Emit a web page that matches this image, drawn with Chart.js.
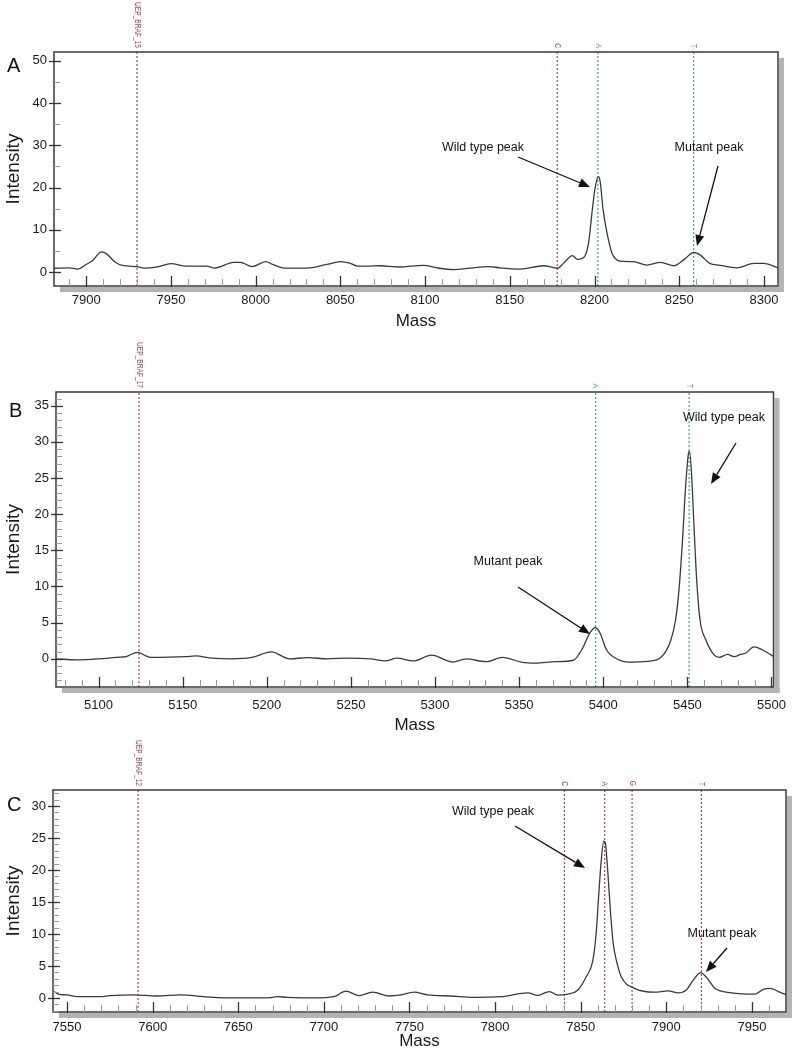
<!DOCTYPE html>
<html><head><meta charset="utf-8">
<script src="https://cdn.jsdelivr.net/npm/chart.js@4.4.1/dist/chart.umd.min.js"></script>
<style>
html,body{margin:0;padding:0;background:#fff;}
#wrap{position:relative;width:797px;height:1060px;overflow:hidden;}
canvas{position:absolute;left:0;}
</style></head><body>
<div id="wrap">
<canvas id="cA" width="797" height="340" style="top:0px;width:797px;height:340px"></canvas>
<canvas id="cB" width="797" height="400" style="top:340px;width:797px;height:400px"></canvas>
<canvas id="cC" width="797" height="320" style="top:740px;width:797px;height:320px"></canvas>
</div>
<script>
// ---------- DATA ----------
// Panel A
const massA = [7881,7890,7895,7900,7904,7909,7912,7917,7922,7930,7934,7942,7950,7959,7971,7976,7987,7991,7998,8006,8010,8017,8030,8042,8050,8056,8060,8066,8073,8085,8099,8107,8117,8125,8138,8144,8156,8170,8178,8182,8187,8190,8194,8196.5,8198.5,8200,8201.5,8202.5,8203.5,8205,8207.4,8210.4,8215,8223,8231,8239,8247,8253,8258.6,8262.5,8268,8274,8284,8294,8300,8308.5];
const intA  = [0.9,1.0,0.7,1.8,2.8,4.8,4.3,2.4,1.5,1.3,0.95,1.25,2.0,1.4,1.4,0.95,2.3,2.3,1.3,2.45,1.8,0.95,0.95,1.8,2.45,2.05,1.4,1.4,1.5,1.2,1.6,1.0,0.6,0.85,1.3,1.0,0.7,1.5,0.9,2.2,3.9,3.0,3.6,6.9,14,19,22,22.6,21,15,9.2,4.4,2.6,2.45,1.65,2.3,1.5,3.0,4.65,4.0,2.05,1.6,1.0,2.05,2.05,1.0];
const xTicksA = [7900,7950,8000,8050,8100,8150,8200,8250,8300];
const yTicksA = [0,10,20,30,40,50];
const markerMassA = [7930,8178,8202,8258.5];
const markerLabelA = ['UEP_BRAF_15','C','A','T'];

// Panel B
const massB = [5075,5087,5100.6,5110.5,5116.3,5123.2,5128.1,5131.1,5151.7,5157.6,5167.4,5179.2,5191,5202.7,5213.6,5224.3,5236.1,5247.9,5261.6,5270.5,5277.3,5287.1,5297.9,5310.7,5318.5,5330.3,5340.1,5351.9,5359.7,5371.5,5382.3,5387.2,5392.1,5395.4,5398,5401.9,5408.8,5414.7,5426.5,5434.3,5440.2,5443,5445,5447,5449,5450.6,5451.3,5452.5,5454,5455.5,5457.5,5461,5466,5469,5473.9,5477.8,5481.7,5484.7,5489.6,5494.5,5501.4];
const intB  = [0,-0.15,0,0.2,0.3,0.9,0.4,0.2,0.3,0.4,0.1,0,0.2,0.95,0,0.15,0,0.1,0,-0.3,0.1,-0.3,0.5,-0.45,0,-0.4,0.2,-0.5,-0.6,-0.4,-0.2,1.25,3.6,4.3,3.6,1.25,-0.1,-0.45,-0.35,0.2,2.6,5.4,9.5,16,24,28.3,28.7,25.5,18,11,5.4,2.6,0.5,0.2,0.6,0.3,0.6,0.8,1.65,1.25,0.3];
const xTicksB = [5100,5150,5200,5250,5300,5350,5400,5450,5500];
const yTicksB = [0,5,10,15,20,25,30,35];
const markerMassB = [5124,5395.5,5451];
const markerLabelB = ['UEP_BRAF_17','A','T'];

// Panel C
const massC = [7542.4,7544.9,7549.8,7555.7,7569.3,7575.2,7588.8,7602.5,7616.2,7629.8,7641.5,7666.9,7672.8,7678.6,7694.2,7705.9,7712.8,7720.6,7728.4,7738.2,7745,7752.8,7760.6,7774.2,7787.9,7803.5,7819.1,7825,7831.7,7836.6,7842.5,7848.4,7853.2,7857.1,7859,7860.5,7862,7863.5,7864.5,7866,7867.5,7869,7870.8,7873.7,7881.5,7893.2,7901,7906.9,7911.7,7916.6,7920,7923.5,7928.4,7938.1,7951.8,7956.7,7960.6,7965.5,7970.4];
const intC  = [1.0,0.6,0.47,0.2,0.2,0.35,0.47,0.3,0.47,0.2,0,0,0.2,0.1,0,0.2,1.05,0.35,0.9,0.3,0.47,0.9,0.47,0.3,0.1,0.2,0.8,0.4,1.0,0.45,0.6,1.25,3.3,5.9,10,16,21.5,24.5,24,19,13,8.5,5.9,3.3,1.5,0.9,1.1,0.8,1.25,3.1,3.95,3.2,1.5,0.8,0.6,1.35,1.5,1.0,0.45];
const xTicksC = [7550,7600,7650,7700,7750,7800,7850,7900,7950];
const yTicksC = [0,5,10,15,20,25,30];
const markerMassC = [7591.5,7840.5,7864,7880,7920.5];
const markerLabelC = ['UEP_BRAF_12','C','A','G','T'];

// ---------- STYLE / LAYOUT ----------
const RED = '#b0454d', BLUE = '#4a93b8';
const FONT = '"Liberation Sans", Arial, Helvetica, sans-serif';

const panels = [
  { id:'cA', letter:'A', letterPos:[7,66], mass:massA, inten:intA, xTicks:xTicksA, yTicks:yTicksA,
    xMin:7881, xMax:8308.3, yMin:-3.3, yMax:52.1, xMinor:10, yMinor:5,
    area:{l:54,t:52,r:778,b:286}, xLabelPad:7, titlePad:8,
    markers: markerMassA.map((m,i)=>({m, label:markerLabelA[i], c: i<2?RED:BLUE})),
    notes:[ {text:'Wild type peak', tx:483, ty:148, a:[518,157,590,187]},
            {text:'Mutant peak', tx:709, ty:148, a:[718,166,697,246]} ] },
  { id:'cB', letter:'B', letterPos:[9,71], mass:massB, inten:intB, xTicks:xTicksB, yTicks:yTicksB,
    xMin:5074.7, xMax:5501.2, yMin:-3.9, yMax:36.9, xMinor:10, yMinor:1,
    area:{l:56,t:52,r:780,b:347}, xLabelPad:11, titlePad:4,
    markers: markerMassB.map((m,i)=>({m, label:markerLabelB[i], c: i<1?RED:BLUE})),
    notes:[ {text:'Wild type peak', tx:724, ty:78, a:[736,103,711,144]},
            {text:'Mutant peak', tx:508, ty:222, a:[518,247,590,294]} ] },
  { id:'cC', letter:'C', letterPos:[7,65], mass:massC, inten:intC, xTicks:xTicksC, yTicks:yTicksC,
    xMin:7541.8, xMax:7969.9, yMin:-2.2, yMax:32.5, xMinor:10, yMinor:1,
    area:{l:53,t:50,r:786,b:272}, xLabelPad:8, titlePad:8,
    markers: markerMassC.map((m,i)=>({m, label:markerLabelC[i], c: RED})),
    notes:[ {text:'Wild type peak', tx:493, ty:72, a:[515,86,585,128]},
            {text:'Mutant peak', tx:722, ty:194, a:[727,208,706,232]} ] }
];

function arrow(ctx, x1,y1,x2,y2){
  const ang = Math.atan2(y2-y1, x2-x1), L = 11, W = 4.5;
  const bx = x2 - L*Math.cos(ang), by = y2 - L*Math.sin(ang);
  ctx.beginPath(); ctx.moveTo(x1,y1); ctx.lineTo(bx,by); ctx.stroke();
  ctx.beginPath(); ctx.moveTo(x2,y2);
  ctx.lineTo(bx + W*Math.sin(ang), by - W*Math.cos(ang));
  ctx.lineTo(bx - W*Math.sin(ang), by + W*Math.cos(ang));
  ctx.closePath(); ctx.fill();
}

function decor(P){
  return {
    id:'decor',
    beforeDraw(chart){
      const {ctx, chartArea:a} = chart;
      ctx.save(); ctx.fillStyle = '#b4b4b4';
      ctx.fillRect(a.right+1, a.top+6, 5, a.bottom-a.top);
      ctx.fillRect(a.left+6, a.bottom+1, a.right-a.left, 5);
      ctx.restore();
    },
    afterDraw(chart){
      const {ctx, chartArea:a, scales:{x,y}} = chart;
      ctx.save();
      // frame
      ctx.strokeStyle = '#3a3a3a'; ctx.lineWidth = 1.5;
      ctx.strokeRect(a.left, a.top, a.right-a.left, a.bottom-a.top);
      // y ticks
      for (let v = Math.ceil(P.yMin/P.yMinor)*P.yMinor; v <= P.yMax; v += P.yMinor){
        const py = Math.round(y.getPixelForValue(v))+0.5;
        const major = P.yTicks.includes(v);
        ctx.beginPath();
        if (major){ ctx.strokeStyle='#333'; ctx.lineWidth=1.3; ctx.moveTo(a.left-5,py); ctx.lineTo(a.left+7,py); }
        else { ctx.strokeStyle='#9a9a9a'; ctx.lineWidth=1; ctx.moveTo(a.left,py); ctx.lineTo(a.left+6,py); }
        ctx.stroke();
      }
      // x ticks
      for (let v = Math.ceil(P.xMin/P.xMinor)*P.xMinor; v <= P.xMax; v += P.xMinor){
        const px = Math.round(x.getPixelForValue(v))+0.5;
        const major = P.xTicks.includes(v);
        ctx.beginPath();
        if (major){ ctx.strokeStyle='#333'; ctx.lineWidth=1.3; ctx.moveTo(px,a.bottom-10); ctx.lineTo(px,a.bottom+1); }
        else { ctx.strokeStyle='#9a9a9a'; ctx.lineWidth=1; ctx.moveTo(px,a.bottom-7); ctx.lineTo(px,a.bottom); }
        ctx.stroke();
      }
      // marker labels (condensed, rotated)
      ctx.font = '8.5px ' + FONT;
      P.markers.forEach(mk=>{
        const px = x.getPixelForValue(mk.m);
        ctx.save(); ctx.translate(px, a.top-4); ctx.rotate(Math.PI/2); ctx.scale(0.78, 1);
        ctx.fillStyle = mk.c; ctx.textAlign='right'; ctx.textBaseline='middle';
        ctx.fillText(mk.label, 0, 0); ctx.restore();
      });
      // panel letter
      ctx.fillStyle = '#111'; ctx.font = '20px ' + FONT; ctx.textAlign='left'; ctx.textBaseline='middle';
      ctx.fillText(P.letter, P.letterPos[0], P.letterPos[1]);
      // annotations
      ctx.font = '12.5px ' + FONT; ctx.textAlign='center'; ctx.textBaseline='middle';
      ctx.strokeStyle = '#111'; ctx.fillStyle='#111'; ctx.lineWidth = 1.3;
      P.notes.forEach(n=>{
        ctx.fillText(n.text, n.tx, n.ty);
        arrow(ctx, n.a[0], n.a[1], n.a[2], n.a[3]);
      });
      ctx.restore();
    }
  };
}

function makePanel(P){
  const el = document.getElementById(P.id);
  const H = el.height;
  const tickFont = {family: FONT, size: 13};
  new Chart(el, {
    type:'line',
    data:{ datasets:[
      { data: P.mass.map((m,i)=>({x:m, y:P.inten[i]})), borderColor:'#3a3a3a', borderWidth:1.3,
        pointRadius:0, cubicInterpolationMode:'monotone', fill:false, order:0 },
      ...P.markers.map(mk=>({ data:[{x:mk.m,y:P.yMin},{x:mk.m,y:P.yMax}], borderColor:mk.c,
        borderWidth:1.2, borderDash:[2,2], pointRadius:0, fill:false, order:1 }))
    ]},
    options:{
      responsive:false, animation:false, devicePixelRatio:1,
      layout:{ padding:{ top:P.area.t, right:797-P.area.r, left:0, bottom:0 } },
      plugins:{ legend:{display:false}, tooltip:{enabled:false} },
      scales:{
        x:{ type:'linear', min:P.xMin, max:P.xMax,
            grid:{display:false, drawTicks:false}, border:{display:false},
            afterBuildTicks: s => { s.ticks = P.xTicks.map(v=>({value:v})); },
            afterFit: s => { s.height = H - P.area.b; },
            ticks:{ font:tickFont, color:'#1a1a1a', padding:P.xLabelPad, maxRotation:0, autoSkip:false, callback:v=>String(v) },
            title:{ display:true, text:'Mass', font:{family:FONT, size:17}, color:'#1a1a1a', padding:{top:0,bottom:P.titlePad} } },
        y:{ type:'linear', min:P.yMin, max:P.yMax,
            grid:{display:false, drawTicks:false}, border:{display:false},
            afterBuildTicks: s => { s.ticks = P.yTicks.map(v=>({value:v})); },
            afterFit: s => { s.width = P.area.l; },
            ticks:{ font:tickFont, color:'#1a1a1a', padding:7, autoSkip:false, callback:v=>String(v) },
            title:{ display:true, text:'Intensity', font:{family:FONT, size:19}, color:'#1a1a1a', padding:{top:2,bottom:0} } }
      }
    },
    plugins:[decor(P)]
  });
}
panels.forEach(makePanel);
</script>
</body></html>
